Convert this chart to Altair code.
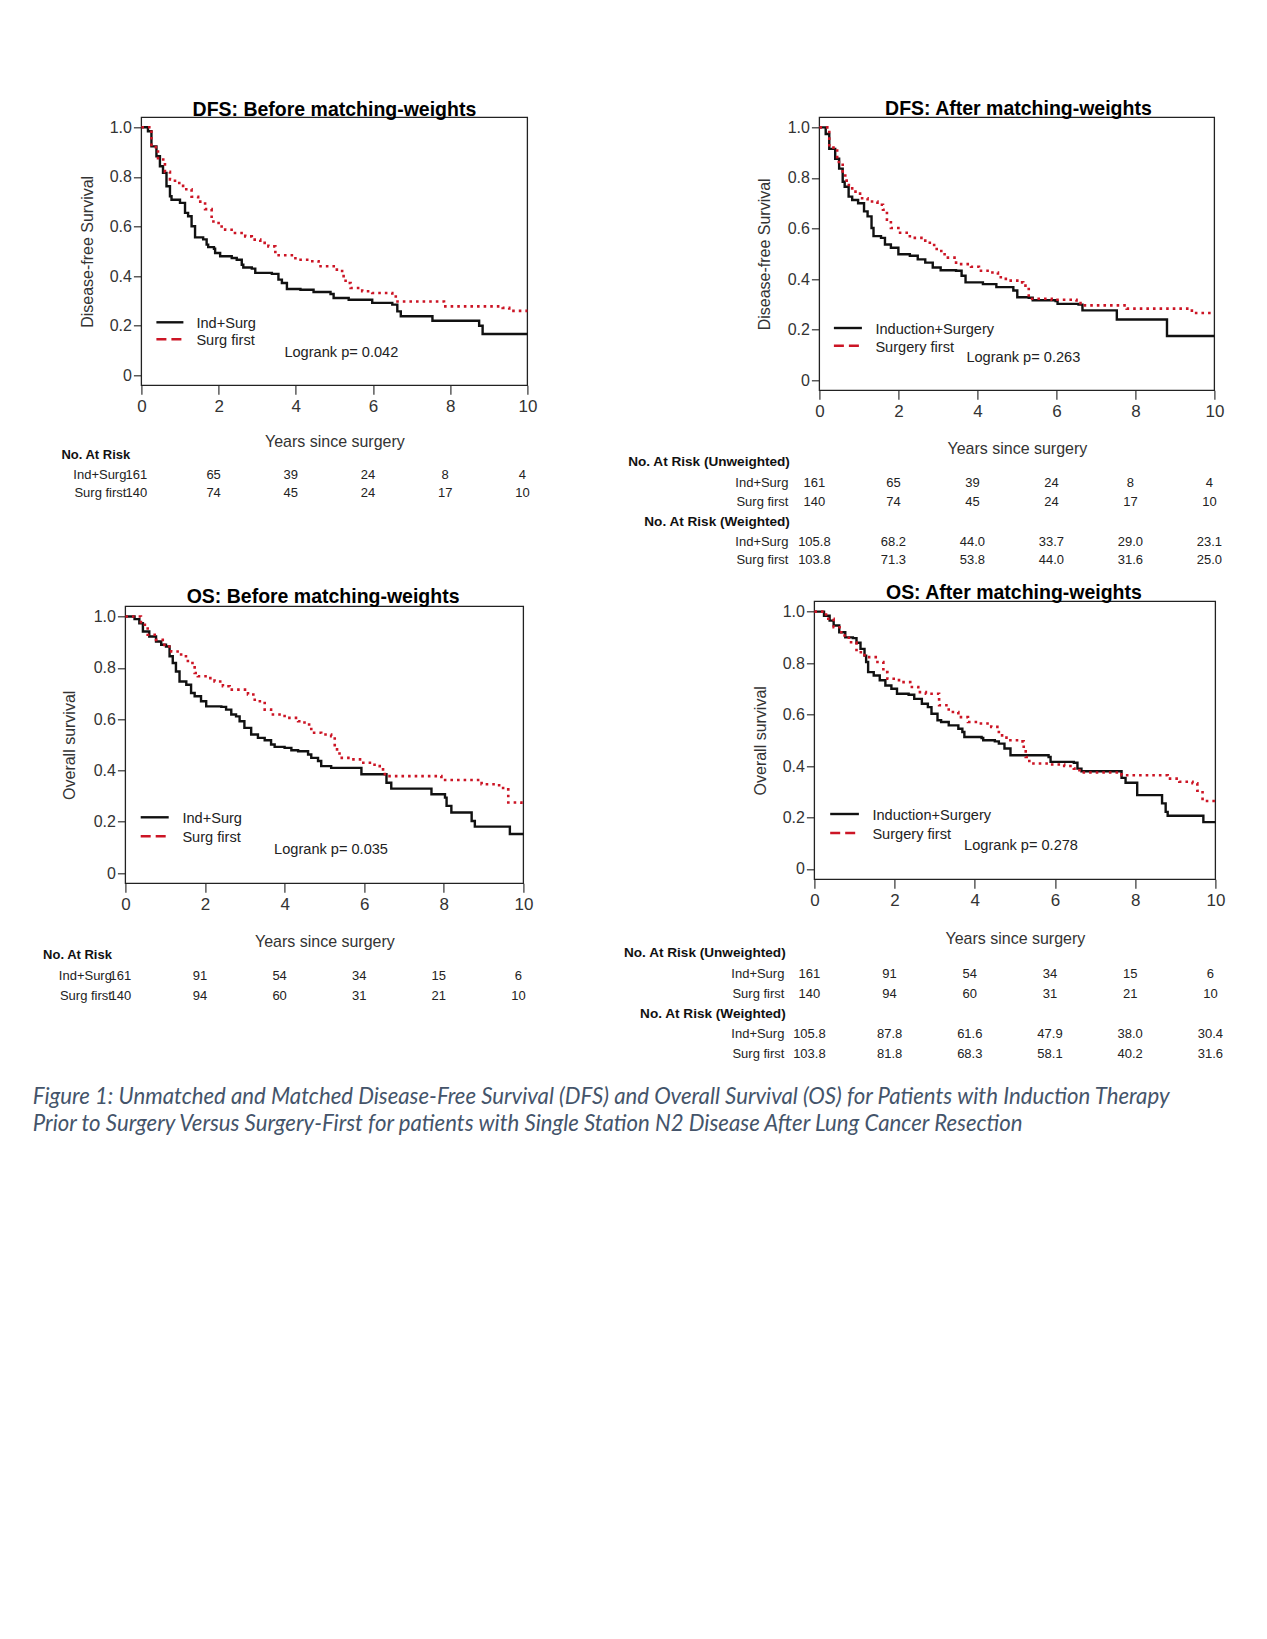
import altair as alt
import pandas as pd

FONT = "Liberation Sans"
BLACK = "#111111"
RED = "#cc1525"
TXT = "#222222"
AX = "#333333"
CAPTION_COLOR = "#44546A"

YEARS = [0, 2, 4, 6, 8, 10]
X_DOMAIN = [0, 10]
Y_DOMAIN = [-0.04, 1.04]
Y_TICKS = [0, 0.2, 0.4, 0.6, 0.8, 1.0]

# ---- Kaplan-Meier curves (years, survival) ----
DFS_BEFORE_IND = [(0, 1.0), (0.17, 0.984), (0.26, 0.923), (0.39, 0.883), (0.48, 0.843), (0.56, 0.816),
                  (0.65, 0.762), (0.74, 0.722), (0.78, 0.708), (1.0, 0.695), (1.13, 0.655), (1.21, 0.641),
                  (1.3, 0.601), (1.39, 0.556), (1.6, 0.548), (1.69, 0.527), (1.73, 0.517), (1.88, 0.51),
                  (1.91, 0.493), (2.04, 0.48), (2.34, 0.473), (2.47, 0.466), (2.6, 0.446), (2.64, 0.435),
                  (2.86, 0.43), (2.95, 0.413), (3.38, 0.409), (3.55, 0.386), (3.64, 0.372), (3.77, 0.348),
                  (4.12, 0.345), (4.46, 0.336), (4.9, 0.328), (4.98, 0.312), (5.37, 0.305), (5.98, 0.292),
                  (6.5, 0.285), (6.63, 0.258), (6.72, 0.238), (7.54, 0.22), (8.75, 0.2), (8.84, 0.167),
                  (10, 0.167)]
DFS_BEFORE_SURG = [(0, 1.0), (0.26, 0.92), (0.43, 0.87), (0.61, 0.82), (0.74, 0.79), (0.87, 0.775),
                   (1.08, 0.75), (1.3, 0.72), (1.47, 0.70), (1.65, 0.67), (1.82, 0.62), (2.0, 0.60),
                   (2.17, 0.587), (2.38, 0.574), (2.69, 0.56), (2.86, 0.547), (3.08, 0.534), (3.29, 0.52),
                   (3.47, 0.484), (3.99, 0.466), (4.33, 0.46), (4.59, 0.44), (5.03, 0.426), (5.2, 0.40),
                   (5.29, 0.372), (5.42, 0.352), (5.72, 0.339), (5.98, 0.332), (6.5, 0.325), (6.59, 0.298),
                   (7.84, 0.278), (9.36, 0.272), (9.53, 0.26), (10, 0.26)]

DFS_AFTER_IND = [(0, 1.0), (0.16, 0.974), (0.25, 0.915), (0.40, 0.876), (0.50, 0.837), (0.59, 0.785),
                 (0.64, 0.765), (0.74, 0.726), (0.83, 0.713), (0.98, 0.70), (1.13, 0.668), (1.22, 0.648),
                 (1.32, 0.602), (1.37, 0.57), (1.56, 0.563), (1.66, 0.537), (1.81, 0.524), (2.0, 0.498),
                 (2.29, 0.492), (2.49, 0.478), (2.68, 0.465), (2.87, 0.446), (3.07, 0.435), (3.46, 0.433),
                 (3.6, 0.413), (3.7, 0.387), (4.14, 0.38), (4.48, 0.368), (4.91, 0.355), (5.01, 0.328),
                 (5.3, 0.326), (5.4, 0.316), (5.98, 0.313), (6.03, 0.302), (6.56, 0.299), (6.66, 0.276),
                 (7.53, 0.24), (8.8, 0.175), (10, 0.175)]
DFS_AFTER_SURG = [(0, 1.0), (0.25, 0.92), (0.45, 0.863), (0.59, 0.81), (0.69, 0.772), (0.83, 0.746),
                  (1.03, 0.72), (1.22, 0.707), (1.47, 0.694), (1.61, 0.674), (1.71, 0.635), (1.81, 0.602),
                  (2.0, 0.583), (2.29, 0.563), (2.68, 0.544), (2.87, 0.535), (2.97, 0.511), (3.17, 0.485),
                  (3.46, 0.459), (3.84, 0.449), (4.04, 0.433), (4.38, 0.426), (4.52, 0.407), (4.72, 0.394),
                  (5.01, 0.387), (5.16, 0.374), (5.3, 0.322), (5.88, 0.318), (6.51, 0.305), (6.61, 0.296),
                  (7.78, 0.283), (9.43, 0.266), (10, 0.266)]

OS_BEFORE_IND = [(0, 1.0), (0.23, 0.99), (0.35, 0.974), (0.44, 0.942), (0.6, 0.922), (0.77, 0.903),
                 (0.9, 0.89), (1.02, 0.883), (1.11, 0.845), (1.19, 0.819), (1.27, 0.786), (1.36, 0.747),
                 (1.53, 0.734), (1.65, 0.702), (1.74, 0.689), (1.9, 0.67), (2.03, 0.65), (2.41, 0.648),
                 (2.53, 0.637), (2.66, 0.618), (2.78, 0.611), (2.87, 0.592), (2.99, 0.566), (3.16, 0.54),
                 (3.33, 0.527), (3.5, 0.518), (3.66, 0.501), (3.75, 0.492), (4.0, 0.488), (4.17, 0.479),
                 (4.34, 0.475), (4.59, 0.462), (4.67, 0.449), (4.84, 0.437), (4.92, 0.417), (5.17, 0.41),
                 (5.93, 0.385), (6.56, 0.352), (6.68, 0.329), (7.69, 0.307), (8.03, 0.294), (8.07, 0.262),
                 (8.19, 0.236), (8.7, 0.203), (8.78, 0.181), (9.66, 0.152), (10, 0.152)]
OS_BEFORE_SURG = [(0, 1.0), (0.39, 0.968), (0.56, 0.929), (0.77, 0.909), (0.98, 0.883), (1.15, 0.864),
                  (1.4, 0.845), (1.57, 0.819), (1.74, 0.78), (1.82, 0.767), (2.07, 0.76), (2.24, 0.747),
                  (2.45, 0.728), (2.62, 0.715), (3.08, 0.696), (3.25, 0.67), (3.5, 0.637), (3.66, 0.618),
                  (4.0, 0.605), (4.34, 0.592), (4.5, 0.579), (4.67, 0.547), (4.92, 0.54), (5.17, 0.534),
                  (5.26, 0.482), (5.38, 0.449), (5.68, 0.443), (5.93, 0.43), (6.26, 0.417), (6.39, 0.404),
                  (6.52, 0.378), (7.94, 0.363), (8.95, 0.346), (9.33, 0.342), (9.49, 0.326), (9.62, 0.275),
                  (9.95, 0.268), (10, 0.268)]

OS_AFTER_IND = [(0, 1.0), (0.24, 0.984), (0.38, 0.965), (0.48, 0.946), (0.62, 0.92), (0.77, 0.90),
                (0.96, 0.897), (1.05, 0.879), (1.15, 0.855), (1.25, 0.829), (1.29, 0.804), (1.34, 0.765),
                (1.48, 0.752), (1.63, 0.733), (1.77, 0.713), (1.92, 0.70), (2.06, 0.681), (2.35, 0.677),
                (2.49, 0.661), (2.68, 0.642), (2.83, 0.629), (2.92, 0.603), (3.07, 0.578), (3.16, 0.571),
                (3.35, 0.558), (3.59, 0.545), (3.69, 0.532), (3.74, 0.513), (4.17, 0.509), (4.21, 0.50),
                (4.5, 0.496), (4.6, 0.487), (4.74, 0.468), (4.89, 0.442), (5.84, 0.435), (5.89, 0.416),
                (6.47, 0.413), (6.56, 0.39), (6.66, 0.38), (7.66, 0.354), (7.76, 0.335), (8.05, 0.287),
                (8.67, 0.255), (8.76, 0.222), (8.81, 0.207), (9.7, 0.182), (10, 0.182)]
OS_AFTER_SURG = [(0, 1.0), (0.29, 0.972), (0.48, 0.939), (0.67, 0.907), (0.86, 0.881), (1.05, 0.842),
                 (1.25, 0.823), (1.53, 0.804), (1.72, 0.765), (1.82, 0.739), (2.11, 0.726), (2.39, 0.707),
                 (2.59, 0.687), (2.78, 0.681), (3.11, 0.636), (3.35, 0.61), (3.59, 0.59), (3.83, 0.571),
                 (4.12, 0.565), (4.41, 0.552), (4.6, 0.519), (4.79, 0.50), (5.12, 0.496), (5.22, 0.468),
                 (5.27, 0.435), (5.36, 0.41), (5.84, 0.406), (6.23, 0.40), (6.47, 0.39), (6.61, 0.375),
                 (7.66, 0.364), (8.81, 0.351), (9.1, 0.339), (9.43, 0.333), (9.55, 0.304), (9.68, 0.264),
                 (10, 0.264)]

# ---- Numbers at risk ----
DFS_RISK_IND = [161, 65, 39, 24, 8, 4]
DFS_RISK_SURG = [140, 74, 45, 24, 17, 10]
DFS_RISK_IND_W = [105.8, 68.2, 44.0, 33.7, 29.0, 23.1]
DFS_RISK_SURG_W = [103.8, 71.3, 53.8, 44.0, 31.6, 25.0]
OS_RISK_IND = [161, 91, 54, 34, 15, 6]
OS_RISK_SURG = [140, 94, 60, 31, 21, 10]
OS_RISK_IND_W = [105.8, 87.8, 61.6, 47.9, 38.0, 30.4]
OS_RISK_SURG_W = [103.8, 81.8, 68.3, 58.1, 40.2, 31.6]

TITLES = ["DFS: Before matching-weights", "DFS: After matching-weights",
          "OS: Before matching-weights", "OS: After matching-weights"]
Y_TITLES = ["Disease-free Survival", "Disease-free Survival", "Overall survival", "Overall survival"]
X_TITLE = "Years since surgery"
LEGEND_SHORT = ["Ind+Surg", "Surg first"]
LEGEND_LONG = ["Induction+Surgery", "Surgery first"]
ROW_LABELS = ["Ind+Surg", "Surg first"]
LOGRANK = ["Logrank p= 0.042", "Logrank p= 0.263", "Logrank p= 0.035", "Logrank p= 0.278"]
HEADERS = ["No. At Risk", "No. At Risk (Unweighted)", "No. At Risk (Weighted)"]
CAPTION_LINES = [
    "Figure 1: Unmatched and Matched Disease-Free Survival (DFS) and Overall Survival (OS) for Patients with Induction Therapy",
    "Prior to Surgery Versus Surgery-First for patients with Single Station N2 Disease After Lung Cancer Resection",
]


def text_layer(label, x, y, size=13, align="left", weight="normal", font=FONT, color=TXT,
               style="normal", baseline="middle"):
    return alt.Chart(pd.DataFrame({"label": [label]})).mark_text(
        align=align, baseline=baseline, font=font, fontSize=size, fontWeight=weight,
        fontStyle=style, color=color
    ).encode(x=alt.value(x), y=alt.value(y), text="label:N")


def panel(idx, curves, legend_labels, table, geo, extra=()):
    xs = alt.Scale(domain=X_DOMAIN, range=geo["xr"], nice=False, zero=False)
    ys = alt.Scale(domain=Y_DOMAIN, range=geo["yr"], nice=False, zero=False)
    x_axis = alt.Axis(
        values=YEARS, format="d", title=X_TITLE, tickSize=9, labelPadding=4,
        labelFontSize=17, titleFontSize=16, titlePadding=geo["xtp"], labelFlush=False,
        domain=False, grid=False, tickColor=AX, tickWidth=1.2, labelColor=AX,
        titleColor=AX, titleFontWeight="normal", labelFont=FONT, titleFont=FONT)
    y_axis = alt.Axis(
        values=Y_TICKS, labelExpr="datum.value == 0 ? '0' : format(datum.value, '.1f')",
        title=Y_TITLES[idx], tickSize=8, labelPadding=2, labelFontSize=16, titleFontSize=16,
        titlePadding=geo["ytp"], offset=geo["yoff"], domain=False, grid=False,
        tickColor=AX, tickWidth=1.2, labelColor=AX, titleColor=AX,
        titleFontWeight="normal", labelFont=FONT, titleFont=FONT)

    def X(field):
        return alt.X(field, scale=xs, axis=x_axis)

    def Y(field):
        return alt.Y(field, scale=ys, axis=y_axis)

    frame_df = pd.DataFrame({"x0": [X_DOMAIN[0]], "x1": [X_DOMAIN[1]],
                             "y0": [Y_DOMAIN[0]], "y1": [Y_DOMAIN[1]]})
    frame = alt.Chart(frame_df).mark_rect(fillOpacity=0, stroke="#222222", strokeWidth=1.3).encode(
        x=X("x0:Q"), x2="x1:Q", y=Y("y0:Q"), y2="y1:Q")
    layers = [frame]
    ind, surg = curves
    layers.append(alt.Chart(pd.DataFrame(ind, columns=["t", "s"])).mark_line(
        interpolate="step-after", color=BLACK, strokeWidth=2.4).encode(x=X("t:Q"), y=Y("s:Q")))
    layers.append(alt.Chart(pd.DataFrame(surg, columns=["t", "s"])).mark_line(
        interpolate="step-after", color=RED, strokeWidth=2.6, strokeDash=[2.6, 4]).encode(
        x=X("t:Q"), y=Y("s:Q")))

    one = pd.DataFrame({"k": [0]})
    lx0, lx1 = geo["leg_line"]
    ly0, ly1 = geo["leg_y"]
    layers.append(alt.Chart(one).mark_rule(color=BLACK, strokeWidth=2.4).encode(
        x=alt.value(lx0), x2=alt.value(lx1), y=alt.value(ly0)))
    layers.append(alt.Chart(one).mark_rule(color=RED, strokeWidth=2.4, strokeDash=[10, 5]).encode(
        x=alt.value(lx0), x2=alt.value(lx0 + 25), y=alt.value(ly1)))
    layers.append(text_layer(legend_labels[0], geo["leg_tx"], ly0 + 2, size=14.6))
    layers.append(text_layer(legend_labels[1], geo["leg_tx"], ly1 + 2, size=14.6))
    layers.append(text_layer(LOGRANK[idx], geo["lr"][0], geo["lr"][1], size=14.6))
    layers.append(text_layer(TITLES[idx], geo["title"][0], geo["title"][1], size=19.5,
                             align="center", weight="bold", color="#000000", baseline="alphabetic"))

    hsize = geo["hsize"]
    for row in table:
        if row["kind"] == "header":
            layers.append(text_layer(row["label"], row["x"], row["y"], size=hsize,
                                     align=row["align"], weight="bold", color="#111111"))
        else:
            layers.append(text_layer(row["label"], row["x"], row["y"], size=13, align="right"))
            layers.append(alt.Chart(pd.DataFrame({"year": YEARS, "n": row["values"]})).mark_text(
                align="center", baseline="middle", font=FONT, fontSize=13, dx=-5, color=TXT
            ).encode(x=X("year:Q"), y=alt.value(row["y"]),
                     text=alt.Text("n:Q", format=row["fmt"])))
    layers.extend(extra)
    return alt.layer(*layers).properties(width=geo["W"], height=geo["H"])


geo1 = dict(W=402, H=268, xr=[16, 402], yr=[268, 0], yoff=-16, ytp=14, xtp=19.5, hsize=13,
            title=(209, -1), leg_line=(31, 58), leg_y=(205, 222), leg_tx=71, lr=(159, 236))
geo2 = dict(W=401, H=273, xr=[5, 400], yr=[273, 0], yoff=-5, ytp=14.6, xtp=21.5, hsize=13.6,
            title=(204, -2.7), leg_line=(19.5, 47.5), leg_y=(210.7, 228.5), leg_tx=61, lr=(152, 241))
geo3 = dict(W=398, H=282, xr=[0, 398], yr=[282, 5], yoff=0, ytp=15.7, xtp=21, hsize=13,
            title=(197.7, 1.5), leg_line=(15.3, 43.3), leg_y=(216, 235), leg_tx=57, lr=(148.7, 248.3))
geo4 = dict(W=401, H=278, xr=[0, 401], yr=[278, 0], yoff=0, ytp=13.9, xtp=22.5, hsize=13.6,
            title=(199.5, -2), leg_line=(15.8, 44.5), leg_y=(212.7, 231.7), leg_tx=58, lr=(149.7, 245))

table1 = [
    dict(kind="header", label=HEADERS[0], x=-64, y=337.4, align="left"),
    dict(kind="row", label=ROW_LABELS[0], x=1, y=357.3, values=DFS_RISK_IND, fmt="d"),
    dict(kind="row", label=ROW_LABELS[1], x=1, y=376, values=DFS_RISK_SURG, fmt="d"),
]
table2 = [
    dict(kind="header", label=HEADERS[1], x=-24.5, y=344.7, align="right"),
    dict(kind="row", label=ROW_LABELS[0], x=-26, y=365.7, values=DFS_RISK_IND, fmt="d"),
    dict(kind="row", label=ROW_LABELS[1], x=-26, y=384.5, values=DFS_RISK_SURG, fmt="d"),
    dict(kind="header", label=HEADERS[2], x=-24.5, y=404.4, align="right"),
    dict(kind="row", label=ROW_LABELS[0], x=-26, y=424.3, values=DFS_RISK_IND_W, fmt=".1f"),
    dict(kind="row", label=ROW_LABELS[1], x=-26, y=443.2, values=DFS_RISK_SURG_W, fmt=".1f"),
]
table3 = [
    dict(kind="header", label=HEADERS[0], x=-82.3, y=353.3, align="left"),
    dict(kind="row", label=ROW_LABELS[0], x=-13.5, y=375, values=OS_RISK_IND, fmt="d"),
    dict(kind="row", label=ROW_LABELS[1], x=-13.5, y=394.8, values=OS_RISK_SURG, fmt="d"),
]
table4 = [
    dict(kind="header", label=HEADERS[1], x=-28.7, y=351.8, align="right"),
    dict(kind="row", label=ROW_LABELS[0], x=-30, y=372.8, values=OS_RISK_IND, fmt="d"),
    dict(kind="row", label=ROW_LABELS[1], x=-30, y=392.7, values=OS_RISK_SURG, fmt="d"),
    dict(kind="header", label=HEADERS[2], x=-28.7, y=412.6, align="right"),
    dict(kind="row", label=ROW_LABELS[0], x=-30, y=432.5, values=OS_RISK_IND_W, fmt=".1f"),
    dict(kind="row", label=ROW_LABELS[1], x=-30, y=452.4, values=OS_RISK_SURG_W, fmt=".1f"),
]

caption = [
    text_layer(CAPTION_LINES[0], -92.6, 495.3, size=22.2, font="Lato", color=CAPTION_COLOR,
               style="italic"),
    text_layer(CAPTION_LINES[1], -92.6, 522.5, size=22.2, font="Lato", color=CAPTION_COLOR,
               style="italic"),
]

p1 = panel(0, (DFS_BEFORE_IND, DFS_BEFORE_SURG), LEGEND_SHORT, table1, geo1)
p2 = panel(1, (DFS_AFTER_IND, DFS_AFTER_SURG), LEGEND_LONG, table2, geo2)
p3 = panel(2, (OS_BEFORE_IND, OS_BEFORE_SURG), LEGEND_SHORT, table3, geo3, extra=caption)
p4 = panel(3, (OS_AFTER_IND, OS_AFTER_SURG), LEGEND_LONG, table4, geo4)

chart = alt.concat(
    p1, p2, p3, p4, columns=2, spacing={"row": 202, "column": 287}, bounds="flush", align="all"
).properties(
    padding={"left": 23.4, "top": 89.3, "right": 10, "bottom": 10},
    background="white",
).configure_view(stroke="transparent")

chart.save("out.html", embed_options={"renderer": "svg", "actions": False})
